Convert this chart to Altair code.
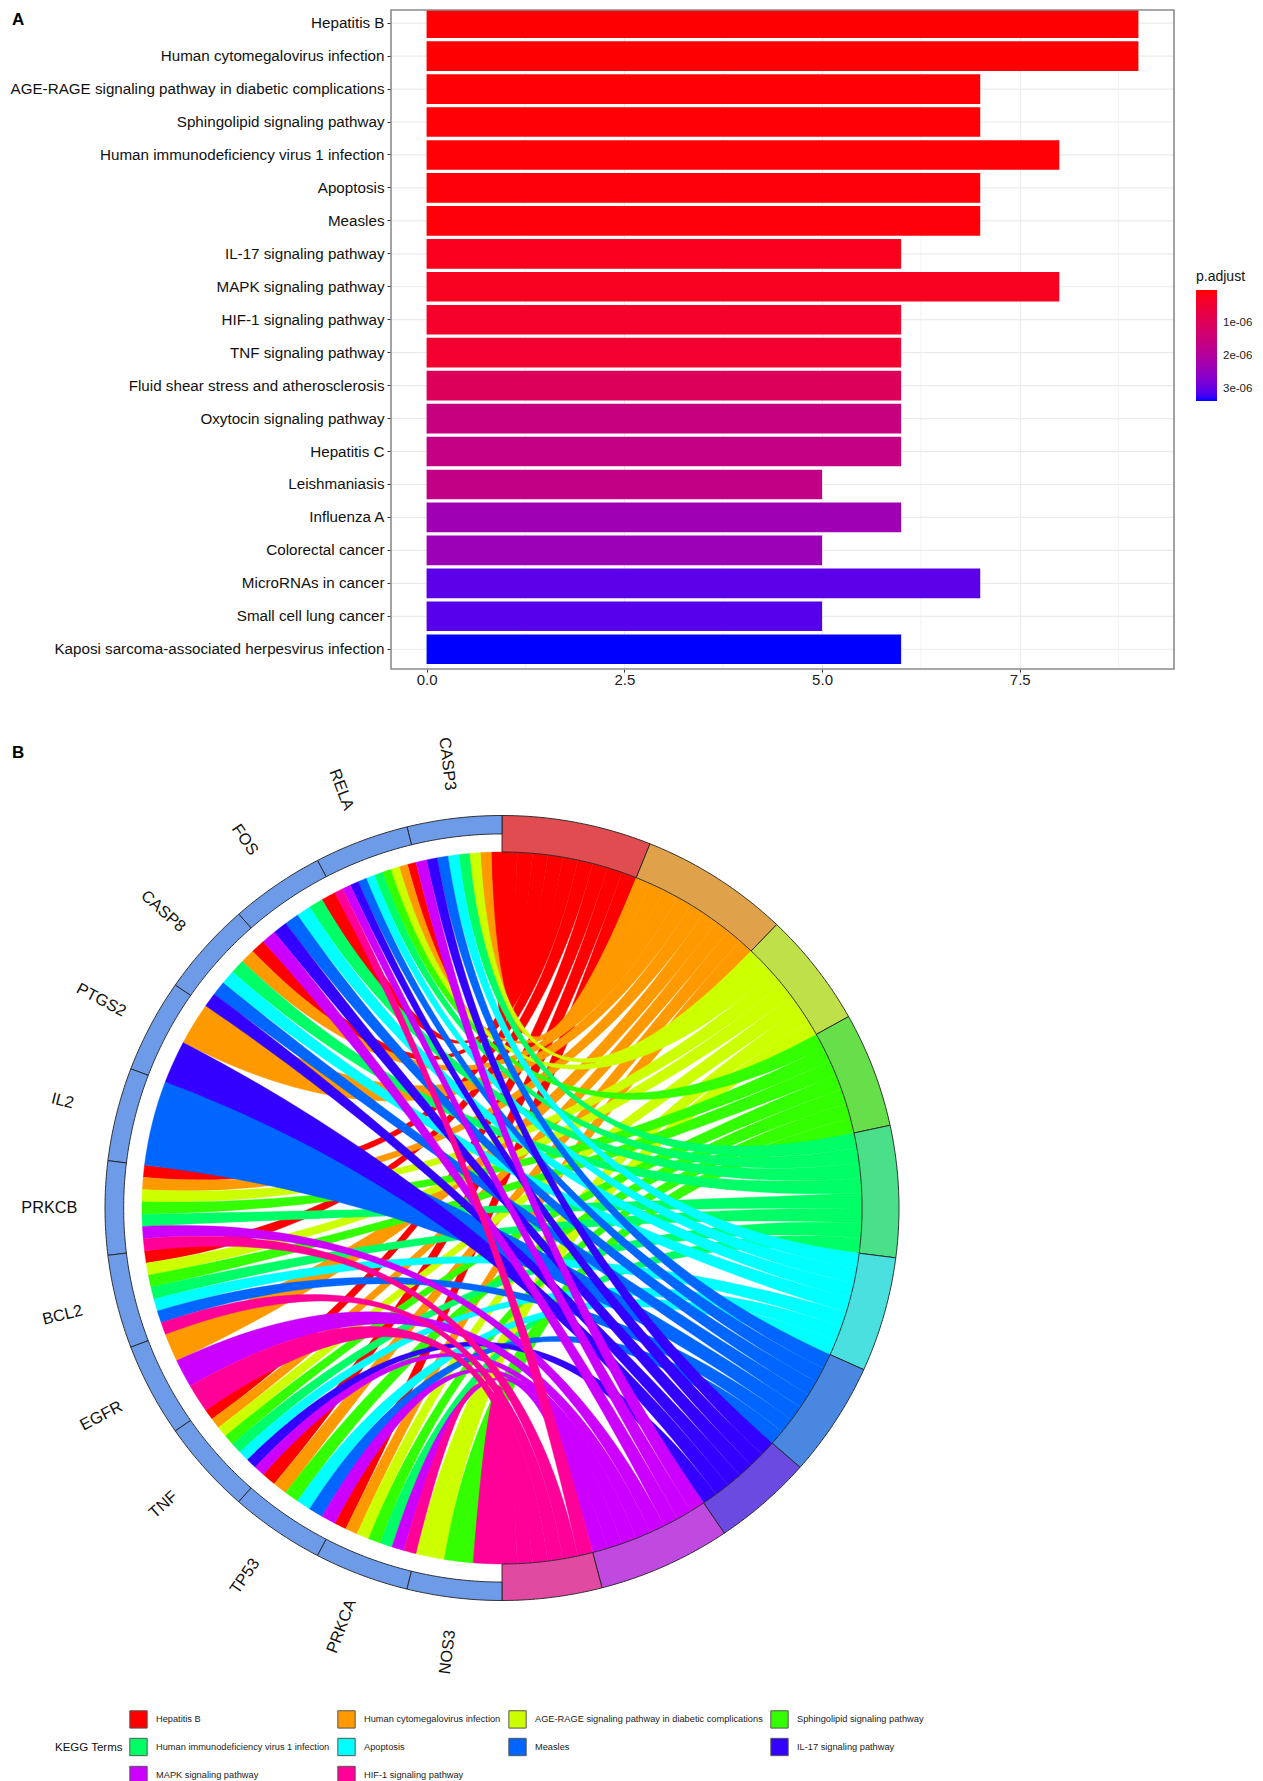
import math
import altair as alt

FONT = "Liberation Sans"

# ---------- Panel A data ----------
CATEGORIES = ["Hepatitis B", "Human cytomegalovirus infection",
              "AGE-RAGE signaling pathway in diabetic complications",
              "Sphingolipid signaling pathway", "Human immunodeficiency virus 1 infection",
              "Apoptosis", "Measles", "IL-17 signaling pathway", "MAPK signaling pathway",
              "HIF-1 signaling pathway", "TNF signaling pathway",
              "Fluid shear stress and atherosclerosis", "Oxytocin signaling pathway",
              "Hepatitis C", "Leishmaniasis", "Influenza A", "Colorectal cancer",
              "MicroRNAs in cancer", "Small cell lung cancer",
              "Kaposi sarcoma-associated herpesvirus infection"]
COUNTS = [9, 9, 7, 7, 8, 7, 7, 6, 8, 6, 6, 6, 6, 6, 5, 6, 5, 7, 5, 6]
P_ADJUST = [1e-8, 1e-8, 3e-8, 3e-8, 3e-8, 5e-8, 5e-8, 2e-7, 2.2e-7, 3.5e-7, 4e-7,
            1.0e-6, 1.55e-6, 1.6e-6, 1.65e-6, 2.3e-6, 2.35e-6, 3.05e-6, 3.08e-6, 3.35e-6]
MAJOR_TICKS = [0, 2.5, 5, 7.5]
MINOR_TICKS = [1.25, 3.75, 6.25, 8.75]
LEGEND_TICKS = [1e-6, 2e-6, 3e-6]
X_MIN, X_MAX = -0.45, 9.45

# ---------- Panel B data ----------
TERMS = CATEGORIES[:10]
TERM_COLORS = ["#FF0000", "#FF9900", "#CCFF00", "#33FF00", "#00FF66",
               "#00FFFF", "#0066FF", "#3300FF", "#CC00FF", "#FF0099"]
TERM_RING = ["#E04C50", "#DFA24A", "#C0E04A", "#66DF4A", "#4AE08A",
             "#4AE0E0", "#4A87E0", "#6A4AE0", "#C04AE0", "#E04AA0"]
GENE_RING = "#6D9BE8"
GENES = ["CASP3", "RELA", "FOS", "CASP8", "PTGS2", "IL2", "PRKCB",
         "BCL2", "EGFR", "TNF", "TP53", "PRKCA", "NOS3"]
# indices into TERMS that each gene links to
MEMBERS = [[0, 1, 2, 4, 5, 6, 7, 8],
           [0, 1, 2, 3, 4, 5, 6, 7, 8, 9],
           [0, 4, 5, 6, 7, 8],
           [0, 1, 4, 5, 6, 7],
           [1, 7],
           [6],
           [0, 1, 2, 3, 4, 8, 9],
           [0, 2, 3, 4, 5, 6, 9],
           [1, 8, 9],
           [0, 1, 2, 3, 4, 5, 7, 8],
           [0, 1, 3, 5, 6, 8],
           [0, 1, 2, 3, 4, 8, 9],
           [2, 3, 9]]

R_OUT, R_GENE, R_IN, R_LABEL = 1.0, 0.953, 0.907, 1.14
SQUASH = 392.5 / 397


def pt(side, deg, r):
    a = math.radians(deg)
    return (side * r * math.sin(a), r * math.cos(a) * SQUASH)


def arc(side, d1, d2, r, n=12):
    return [pt(side, d1 + (d2 - d1) * i / n, r) for i in range(n + 1)]


def sector(side, d1, d2, r1, r2, **props):
    ring = arc(side, d1, d2, r2, 24) + arc(side, d2, d1, r1, 24)
    ring.append(ring[0])
    return {"type": "Feature", "properties": props,
            "geometry": {"type": "Polygon", "coordinates": [[list(p) for p in ring]]}}


def bez(p0, p1, n=50):
    out = []
    for i in range(n + 1):
        t = i / n
        out.append(((1 - t) ** 2 * p0[0] + t * t * p1[0], (1 - t) ** 2 * p0[1] + t * t * p1[1]))
    return out


term_genes = [[g for g, m in enumerate(MEMBERS) if t in m] for t in range(len(TERMS))]
total = sum(len(m) for m in MEMBERS)
term_start, acc = [], 0
for tg in term_genes:
    term_start.append(acc * 180 / total)
    acc += len(tg)
gene_step = 180 / len(GENES)


def term_span(t, g):
    i = term_genes[t].index(g)
    w = 180 / total
    return term_start[t] + i * w, term_start[t] + (i + 1) * w


def gene_span(g, t):
    i = MEMBERS[g].index(t)
    w = gene_step / len(MEMBERS[g])
    return g * gene_step + i * w, g * gene_step + (i + 1) * w


ribbons = []
for t, name in enumerate(TERMS):
    for g in term_genes[t]:
        a1, a2 = term_span(t, g)
        b1, b2 = gene_span(g, t)
        ring = (bez(pt(1, a1, R_IN), pt(-1, b1, R_IN)) + arc(-1, b1, b2, R_IN)
                + bez(pt(-1, b2, R_IN), pt(1, a2, R_IN)) + arc(1, a2, a1, R_IN))
        ring.append(ring[0])
        ribbons.append({"type": "Feature", "properties": {"term": name},
                        "geometry": {"type": "Polygon", "coordinates": [[list(p) for p in ring]]}})

rings = []
for t in range(len(TERMS)):
    d1 = term_start[t]
    d2 = d1 + len(term_genes[t]) * 180 / total
    rings.append(sector(1, d1, d2, R_IN, R_OUT, fill=TERM_RING[t]))
for g in range(len(GENES)):
    rings.append(sector(-1, g * gene_step, (g + 1) * gene_step, R_GENE, R_OUT, fill=GENE_RING))

labels = []
for g, name in enumerate(GENES):
    mid = (g + 0.5) * gene_step
    x, y = pt(-1, mid, R_LABEL)
    labels.append({"gene": name, "x": x, "y": y, "rot": (90 - mid) % 360})

# ---------- Panel A ----------
LEFT, PANEL_RIGHT, PANEL_H = 382, 1165, 659
ORIGIN_X = 8
bar_rows = [{"term": c, "n": n, "p": p} for c, n, p in zip(CATEGORIES, COUNTS, P_ADJUST)]
minor_rows = [{"v": v} for v in MINOR_TICKS]
x_scale = alt.Scale(domain=[X_MIN, X_MAX], range=[LEFT, PANEL_RIGHT], nice=False, zero=False)
x_axis = alt.Axis(title=None, values=MAJOR_TICKS, format=".1f", domain=False, grid=True,
                  gridColor="#ebebeb", gridWidth=1.2, tickColor="#333333", tickSize=3,
                  labelFont=FONT, labelFontSize=15, labelColor="#222222", labelPadding=0,
                  minExtent=30, maxExtent=30)
y_enc = alt.Y("term:N", sort=CATEGORIES,
              scale=alt.Scale(range=[-6.6, PANEL_H], paddingInner=0.1, paddingOuter=0.15),
              axis=alt.Axis(title=None, domain=False, grid=False, offset=-LEFT,
                            tickColor="#333333", tickSize=4, labelFont=FONT, labelFontSize=15.2,
                            labelColor="#111111", labelPadding=3, labelLimit=400))

grid_y = alt.Chart(alt.Data(values=bar_rows)).mark_rule(color="#ebebeb", strokeWidth=1.2).encode(
    x=alt.X(datum=X_MIN, scale=x_scale, axis=x_axis), x2=alt.X2(datum=X_MAX), y=y_enc)

minor = alt.Chart(alt.Data(values=minor_rows)).mark_rule(color="#eeeeee", strokeWidth=0.7).encode(
    x=alt.X("v:Q", scale=x_scale, axis=x_axis))

bars = alt.Chart(alt.Data(values=bar_rows)).mark_bar(clip=True).encode(
    x=alt.X("n:Q", scale=x_scale, axis=x_axis),
    y=y_enc,
    color=alt.Color("p:Q",
                    scale=alt.Scale(domain=[3.35e-6, 0], range=["#0000FF", "#FF0000"], interpolate="lab"),
                    legend=alt.Legend(title="p.adjust", orient="none", legendX=805 + LEFT, legendY=260,
                                      values=LEGEND_TICKS, gradientLength=111, gradientThickness=21,
                                      gradientStrokeColor="transparent",
                                      labelExpr="replace(format(datum.value,'.0e'),'e-','e-0')",
                                      titleFont=FONT, titleFontSize=14, titleFontWeight="normal",
                                      titleColor="#111111", titlePadding=6,
                                      labelFont=FONT, labelFontSize=11.5, labelColor="#222222",
                                      labelOffset=6)),
)

frame = alt.Chart(alt.Data(values=[{"t": "frame"}])).mark_rect(
    filled=False, stroke="#8c8c8c", strokeWidth=1.6
).encode(x=alt.X(datum=X_MIN, scale=x_scale, axis=x_axis), x2=alt.X2(datum=X_MAX))

tag_a = alt.Chart(alt.Data(values=[{"t": "A"}])).mark_text(
    font=FONT, fontSize=17, fontWeight="bold", align="left", baseline="middle", color="black"
).encode(x=alt.value(11 - ORIGIN_X), y=alt.value(10), text="t:N")

panel_a = alt.layer(grid_y, minor, bars, frame, tag_a).properties(width=PANEL_RIGHT, height=PANEL_H)

# ---------- Panel B ----------
B_W, B_H = 930, 1075
B_TOP = 8 + PANEL_H + 30 + 3.5
proj = dict(type="identity", reflectY=True, scale=397,
            translate=[501 - ORIGIN_X, 1207.5 - B_TOP])

ribbon_layer = alt.Chart(alt.Data(values=ribbons)).mark_geoshape(filled=True, strokeWidth=0.4).encode(
    stroke=alt.Stroke("properties.term:N", scale=alt.Scale(domain=TERMS, range=TERM_COLORS), legend=None),
    color=alt.Color("properties.term:N",
                    scale=alt.Scale(domain=TERMS, range=TERM_COLORS),
                    legend=alt.Legend(title="KEGG Terms", orient="none",
                                      legendX=54 - ORIGIN_X, legendY=1709 - B_TOP,
                                      direction="horizontal", columns=4, symbolType="square",
                                      symbolSize=300, symbolStrokeColor="#555555", symbolStrokeWidth=1,
                                      symbolOpacity=1, columnPadding=5, rowPadding=5,
                                      labelFont=FONT, labelFontSize=9.25, labelColor="#222222",
                                      labelLimit=320, labelOffset=8,
                                      titleOrient="left", titleFont=FONT, titleFontSize=11.5,
                                      titleFontWeight="normal", titleColor="#111111",
                                      titleAnchor="middle", titlePadding=6))
).project(**proj)

ring_layer = alt.Chart(alt.Data(values=rings)).mark_geoshape(
    filled=True, stroke="#222222", strokeWidth=0.9
).encode(fill=alt.Fill("properties.fill:N", scale=None)).project(**proj)

label_layer = alt.Chart(alt.Data(values=labels)).mark_text(
    font=FONT, fontSize=16.3, align="center", baseline="middle", color="#111111"
).encode(longitude="x:Q", latitude="y:Q", text="gene:N",
         angle=alt.Angle("rot:Q", scale=None)).project(**proj)

tag_b = alt.Chart(alt.Data(values=[{"t": "B"}])).mark_text(
    font=FONT, fontSize=17, fontWeight="bold", align="left", baseline="middle", color="black"
).encode(x=alt.value(11 - ORIGIN_X), y=alt.value(752 - B_TOP), text="t:N")

panel_b = alt.layer(ribbon_layer, ring_layer, label_layer, tag_b).properties(width=B_W, height=B_H)

chart = alt.concat(panel_a, panel_b, columns=1, spacing=0, align="none").properties(
    padding=0, background="white"
).configure_view(stroke="transparent")

chart.save("out.html", embed_options={"renderer": "svg", "actions": False})
